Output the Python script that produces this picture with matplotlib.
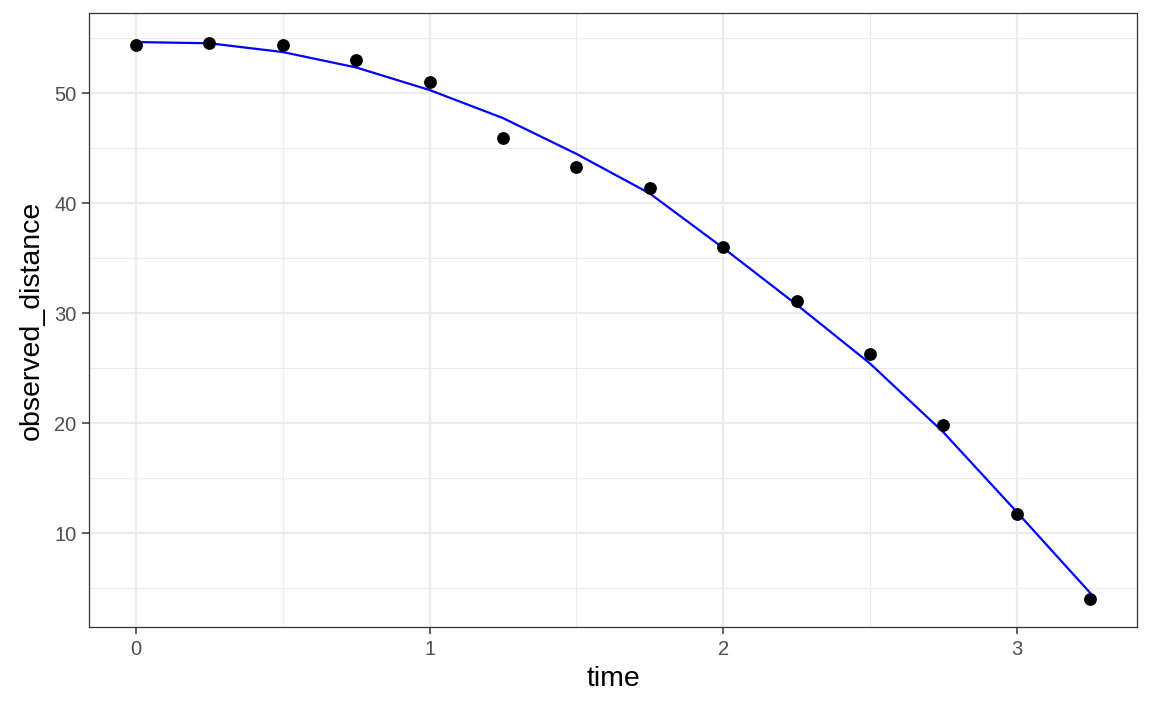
import matplotlib
matplotlib.use('Agg')
import matplotlib.pyplot as plt
from matplotlib.ticker import MultipleLocator

plt.rcParams['font.family'] = ['Liberation Sans', 'DejaVu Sans']

time = [0, 0.25, 0.5, 0.75, 1.0, 1.25, 1.5, 1.75, 2.0, 2.25, 2.5, 2.75, 3.0, 3.25]
observed_distance = [54.36, 54.57, 54.43, 53.0, 51.0, 45.9, 43.3, 41.4,
                     36.05, 31.15, 26.35, 19.85, 11.8, 4.03]
fitted_distance = [54.66, 54.55, 53.75, 52.35, 50.3, 47.75, 44.5, 40.9,
                   35.95, 30.8, 25.45, 19.2, 11.96, 4.6]

fig = plt.figure(figsize=(11.52, 7.11), dpi=100)
ax = fig.add_axes([0.0773, 0.118, 0.9097, 0.8637])

ax.plot(time, fitted_distance, color='blue', lw=1.6, zorder=3)
ax.scatter(time, observed_distance, s=85, color='black', zorder=4, linewidths=0)

ax.set_xlim(-0.16, 3.41)
ax.set_ylim(1.48, 57.3)
ax.xaxis.set_major_locator(MultipleLocator(1))
ax.xaxis.set_minor_locator(MultipleLocator(0.5))
ax.yaxis.set_major_locator(MultipleLocator(10))
ax.yaxis.set_minor_locator(MultipleLocator(5))
ax.set_yticks([10, 20, 30, 40, 50])

ax.grid(which='major', color='#EBEBEB', lw=1.6, zorder=0)
ax.grid(which='minor', color='#EBEBEB', lw=0.8, zorder=0)
ax.set_axisbelow(True)
ax.tick_params(which='minor', length=0)
ax.tick_params(which='major', length=5, width=1.1, color='#333333',
               labelsize=14.5, labelcolor='#4D4D4D', pad=4)
for s in ax.spines.values():
    s.set_color('#333333')
    s.set_linewidth(0.9)

ax.set_xlabel('time', fontsize=20.5, labelpad=5)
ax.set_ylabel('observed_distance', fontsize=20.5, labelpad=7)

fig.savefig('out.png', dpi=100)
